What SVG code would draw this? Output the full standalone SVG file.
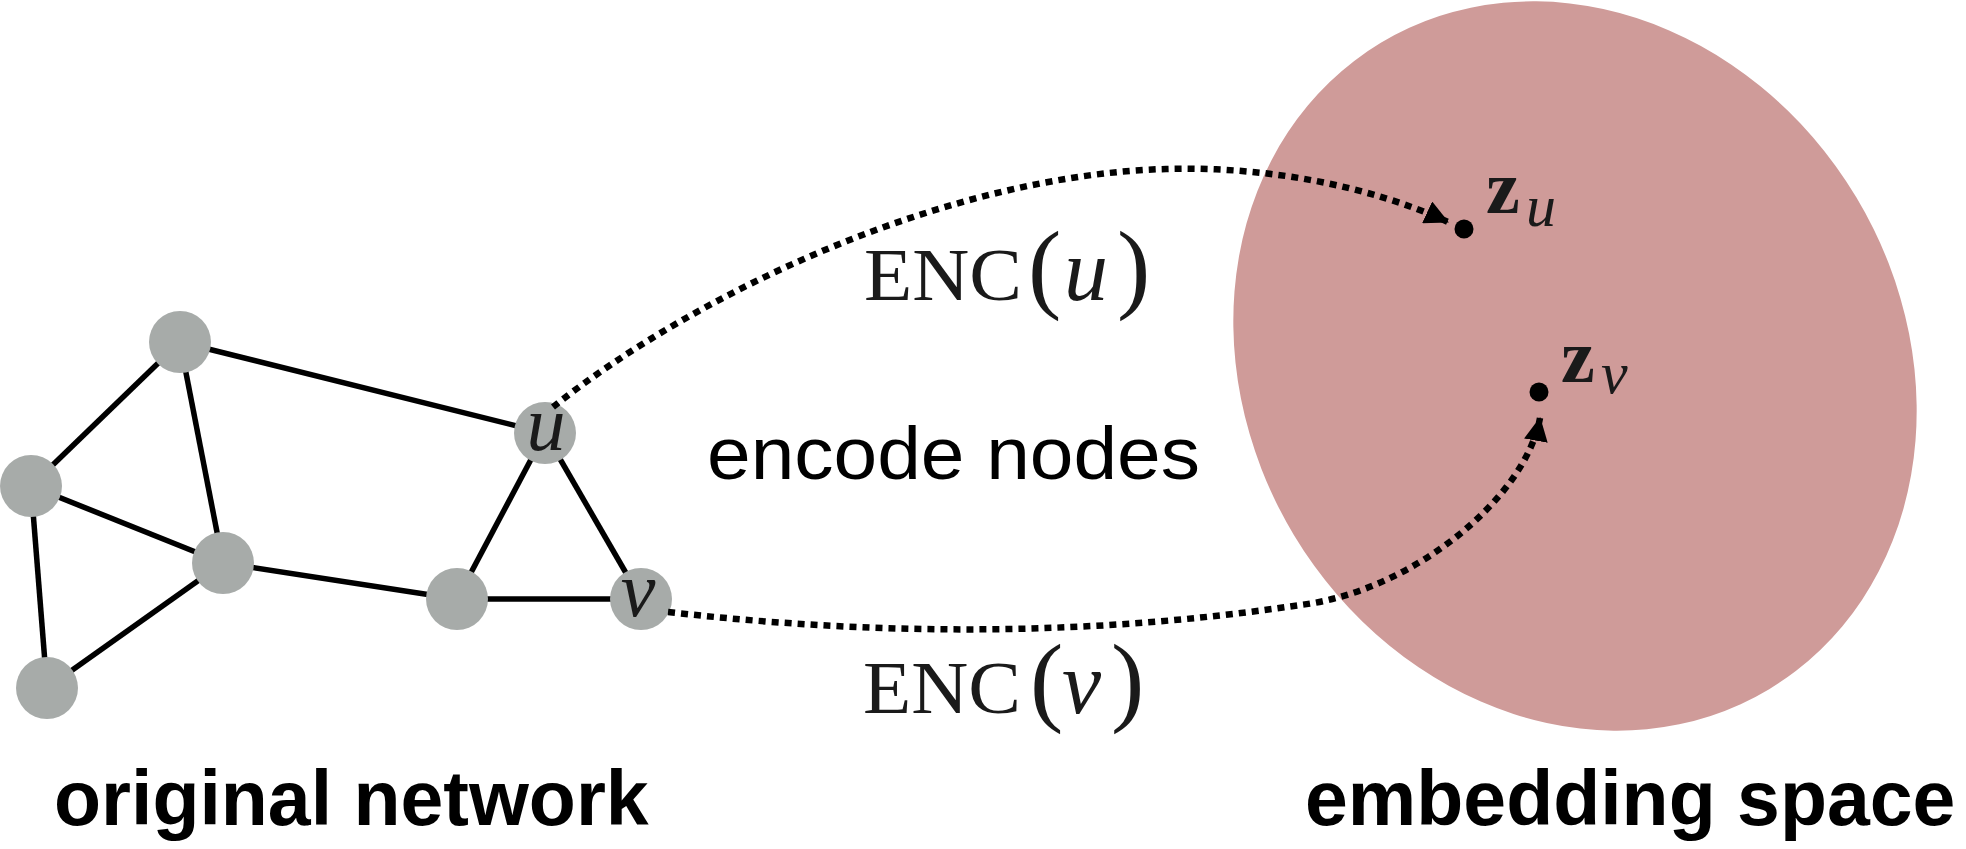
<svg xmlns="http://www.w3.org/2000/svg" width="1966" height="849" viewBox="0 0 1966 849">
  <style>
    .node { fill: #a7aba9; }
    .edge { stroke: #000; stroke-width: 5.5; fill: none; }
    .map { stroke: #000; stroke-width: 6.5; fill: none; stroke-dasharray: 7 6; marker-end: url(#arrow); }
    .serif { font-family: "Liberation Serif", "Times New Roman", serif; fill: #1a1a1a; }
    .it { font-style: italic; }
    .sans { font-family: "Liberation Sans", Arial, sans-serif; fill: #000; }
    .title { font-weight: bold; font-size: 77px; }
    .dot { fill: #000; }
  </style>
  <defs>
    <marker id="arrow" markerUnits="userSpaceOnUse" viewBox="0 0 24 24" markerWidth="24" markerHeight="24" refX="23" refY="12" orient="auto">
      <path d="M0,0 L24,12 L0,24 z" fill="#000"/>
    </marker>
  </defs>

  <g id="embedding-space">
    <ellipse fill="#cf9b99" cx="1575" cy="366" rx="377" ry="328" transform="rotate(59 1575 366)"/>
  </g>

  <g id="edges">
    <line class="edge" x1="180" y1="342" x2="31" y2="486"/>
    <line class="edge" x1="180" y1="342" x2="223" y2="563"/>
    <line class="edge" x1="180" y1="342" x2="545" y2="433"/>
    <line class="edge" x1="31" y1="486" x2="223" y2="563"/>
    <line class="edge" x1="31" y1="486" x2="47" y2="688"/>
    <line class="edge" x1="223" y1="563" x2="47" y2="688"/>
    <line class="edge" x1="223" y1="563" x2="457" y2="599"/>
    <line class="edge" x1="457" y1="599" x2="545" y2="433"/>
    <line class="edge" x1="457" y1="599" x2="641" y2="599"/>
    <line class="edge" x1="545" y1="433" x2="641" y2="599"/>
  </g>

  <g id="node-a"><circle class="node" cx="180" cy="342" r="31"/></g>
  <g id="node-b"><circle class="node" cx="31" cy="486" r="31"/></g>
  <g id="node-c"><circle class="node" cx="223" cy="563" r="31"/></g>
  <g id="node-d"><circle class="node" cx="47" cy="688" r="31"/></g>
  <g id="node-e"><circle class="node" cx="457" cy="599" r="31"/></g>
  <g id="node-u">
    <circle class="node" cx="545" cy="433" r="31"/>
    <text class="serif it" x="546" y="450" font-size="78" text-anchor="middle">u</text>
  </g>
  <g id="node-v">
    <circle class="node" cx="641" cy="599" r="31"/>
    <text class="serif it" x="638" y="616" font-size="78" text-anchor="middle">v</text>
  </g>

  <g id="mappings">
    <path class="map" d="M 553 407 C 700 290 950 175 1166 169 C 1266 166 1370 186 1448 222"/>
    <path class="map" d="M 668 612 Q 1000 650 1300 605 C 1410 592 1525 500 1540 418"/>
  </g>

  <g id="point-zu">
    <circle class="dot" cx="1464" cy="229" r="9.5"/>
    <text class="serif" x="1486" y="213" font-size="76" font-weight="bold">z</text>
    <text class="serif it" x="1526" y="226" font-size="60">u</text>
  </g>
  <g id="point-zv">
    <circle class="dot" cx="1539" cy="392" r="9.5"/>
    <text class="serif" x="1561" y="382" font-size="76" font-weight="bold">z</text>
    <text class="serif it" x="1601" y="393" font-size="60">v</text>
  </g>

  <g id="label-enc-u">
    <text class="serif" x="864" y="300" font-size="74" textLength="158" lengthAdjust="spacingAndGlyphs">ENC</text>
    <text class="serif" x="1028" y="300" font-size="100">(</text>
    <text class="serif it" x="1064" y="300" font-size="88">u</text>
    <text class="serif" x="1117" y="300" font-size="100">)</text>
  </g>
  <g id="label-enc-v">
    <text class="serif" x="863" y="713" font-size="74" textLength="158" lengthAdjust="spacingAndGlyphs">ENC</text>
    <text class="serif" x="1030" y="713" font-size="100">(</text>
    <text class="serif it" x="1062" y="713" font-size="88">v</text>
    <text class="serif" x="1111" y="713" font-size="100">)</text>
  </g>

  <text class="sans" x="707" y="479" font-size="74" textLength="493" lengthAdjust="spacingAndGlyphs">encode nodes</text>
  <text class="sans title" x="54" y="825">original network</text>
  <text class="sans title" x="1305" y="825">embedding space</text>
</svg>
